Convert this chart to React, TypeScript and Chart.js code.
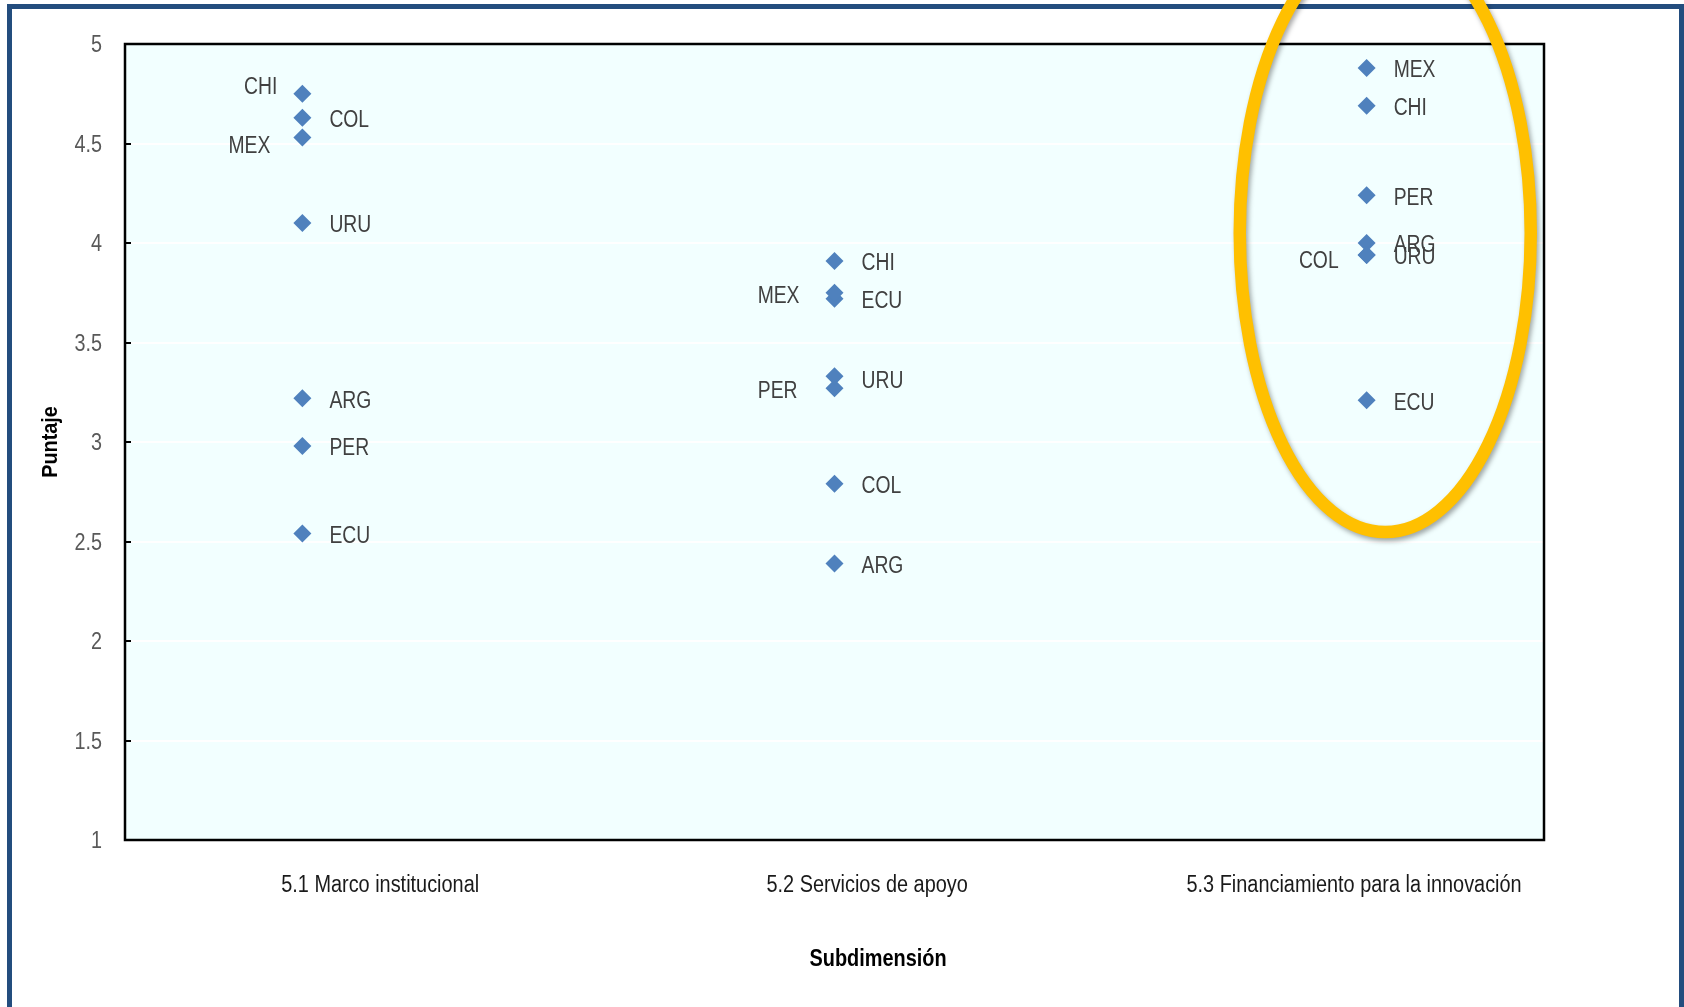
import React, { useEffect, useRef } from 'react';
import { Chart, registerables } from 'chart.js';

Chart.register(...registerables);

// ---------- data ----------
const categories = [
  '5.1 Marco institucional',
  '5.2 Servicios de apoyo',
  '5.3 Financiamiento para la innovación',
];
const countries = ['ARG', 'CHI', 'COL', 'ECU', 'MEX', 'PER', 'URU'];
const marcoInstitucional = [3.22, 4.75, 4.63, 2.54, 4.53, 2.98, 4.1];
const serviciosApoyo = [2.39, 3.91, 2.79, 3.72, 3.75, 3.27, 3.33];
const financiamientoInnovacion = [4.0, 4.69, 3.94, 3.21, 4.88, 4.24, 3.94];
const seriesValues = [marcoInstitucional, serviciosApoyo, financiamientoInnovacion];
const yMin = 1;
const yMax = 5;
const yStep = 0.5;
const yTitle = 'Puntaje';
const xTitle = 'Subdimensión';

// ---------- styles / layout ----------
const FONT = "'Liberation Sans', Arial, sans-serif";
const POINT_COLOR = '#4F81BD';
const PLOT_BG = '#F2FFFF';
const FRAME_COLOR = '#234D7E';
const RIGHT_DX = 27;
const TEXT_DY = 2; // visual centring correction for 'middle' baseline
// label placement per "categoryIndex-country"
const labelLayout: Record<string, { side: 'left' | 'right'; dx: number; dy: number }> = {
  '0-CHI': { side: 'left', dx: -25, dy: -8 },
  '0-MEX': { side: 'left', dx: -32, dy: 7 },
  '1-MEX': { side: 'left', dx: -35, dy: 2 },
  '1-PER': { side: 'left', dx: -37, dy: 1 },
  '1-URU': { side: 'right', dx: RIGHT_DX, dy: 3 },
  '2-COL': { side: 'left', dx: -28, dy: 5 },
};

function narrowText(
  ctx: CanvasRenderingContext2D,
  text: string,
  x: number,
  y: number,
  align: CanvasTextAlign,
  sx: number,
  rotate = 0
) {
  ctx.save();
  ctx.translate(x, rotate ? y : y + TEXT_DY);
  if (rotate) ctx.rotate(rotate);
  ctx.scale(sx, 1);
  ctx.textAlign = align;
  ctx.textBaseline = 'middle';
  ctx.fillText(text, 0, 0);
  ctx.restore();
}

const plotDecor = {
  id: 'plotDecor',
  beforeDraw(chart: any) {
    const { ctx, chartArea: a } = chart;
    ctx.save();
    ctx.fillStyle = PLOT_BG;
    ctx.fillRect(a.left, a.top, a.right - a.left, a.bottom - a.top);
    ctx.restore();
  },
  afterDatasetsDraw(chart: any) {
    const { ctx } = chart;
    ctx.save();
    ctx.font = `23px ${FONT}`;
    ctx.fillStyle = '#404040';
    chart.data.datasets.forEach((ds: any, di: number) => {
      const meta = chart.getDatasetMeta(di);
      meta.data.forEach((pt: any, i: number) => {
        const key = `${di}-${countries[i]}`;
        const lay = labelLayout[key] || { side: 'right', dx: RIGHT_DX, dy: 1 };
        narrowText(
          ctx,
          countries[i],
          pt.x + lay.dx,
          pt.y + lay.dy,
          lay.side === 'left' ? 'right' : 'left',
          0.84
        );
      });
    });
    ctx.restore();
  },
  afterDraw(chart: any) {
    const { ctx, chartArea: a, scales } = chart;
    ctx.save();
    // y tick labels + inward tick marks
    ctx.strokeStyle = '#000';
    ctx.lineWidth = 2;
    ctx.font = `23px ${FONT}`;
    ctx.fillStyle = '#595959';
    scales.y.ticks.forEach((t: any) => {
      const y = scales.y.getPixelForValue(t.value);
      const yr = Math.round(y);
      ctx.beginPath();
      ctx.moveTo(a.left, yr);
      ctx.lineTo(a.left + 6, yr);
      ctx.stroke();
      narrowText(ctx, String(t.value), a.left - 23, y, 'right', 0.86);
    });
    // category labels
    ctx.font = `23px ${FONT}`;
    ctx.fillStyle = '#1a1a1a';
    scales.x2.ticks.forEach((t: any) => {
      const x = scales.x2.getPixelForValue(t.value);
      narrowText(ctx, categories[Math.round(t.value) - 1], x, a.bottom + 44, 'center', 0.865);
    });
    // plot border
    ctx.lineWidth = 2.5;
    ctx.strokeStyle = '#000';
    ctx.strokeRect(a.left, a.top, a.right - a.left, a.bottom - a.top);
    // axis titles
    ctx.font = `bold 23px ${FONT}`;
    ctx.fillStyle = '#000';
    narrowText(ctx, xTitle, 878, 958, 'center', 0.865);
    ctx.font = `bold 22px ${FONT}`;
    narrowText(ctx, yTitle, 51, (a.top + a.bottom) / 2, 'center', 0.9, -Math.PI / 2);
    // highlight ellipse around third subdimension
    const cx = scales.x.getPixelForValue(3.035);
    const cy = scales.y.getPixelForValue(4.05);
    ctx.shadowColor = 'rgba(0,0,0,0.35)';
    ctx.shadowBlur = 5;
    ctx.shadowOffsetX = 2;
    ctx.shadowOffsetY = 3;
    ctx.strokeStyle = '#FFC000';
    ctx.lineWidth = 12.5;
    ctx.beginPath();
    ctx.ellipse(cx, cy, 145.5, 299, 0, 0, Math.PI * 2);
    ctx.stroke();
    ctx.restore();
  },
};

export default function App() {
  const ref = useRef<HTMLCanvasElement | null>(null);

  useEffect(() => {
    if (!ref.current) return;
    const chart = new Chart(ref.current, {
      type: 'scatter',
      data: {
        datasets: seriesValues.map((vals, ci) => ({
          label: categories[ci],
          data: vals.map((v) => ({ x: ci + 1, y: v })),
          pointStyle: 'rectRot',
          pointRadius: 9,
          pointBorderWidth: 0,
          backgroundColor: POINT_COLOR,
          borderColor: POINT_COLOR,
        })),
      },
      options: {
        animation: false,
        responsive: false,
        devicePixelRatio: 1,
        layout: { padding: { top: 44, right: 140, left: 0, bottom: 0 } },
        plugins: {
          legend: { display: false },
          tooltip: { enabled: false },
        },
        scales: {
          x: {
            type: 'linear',
            display: false,
            min: 2 / 3,
            max: 10 / 3,
          },
          x2: {
            type: 'linear',
            position: 'bottom',
            min: 0.476,
            max: 3.39,
            afterBuildTicks: (scale: any) => {
              scale.ticks = categories.map((_, i) => ({ value: i + 1 }));
            },
            afterFit: (scale: any) => {
              scale.height = 167;
            },
            ticks: { display: false },
            grid: { display: false, drawTicks: false },
            border: { display: false },
          },
          y: {
            type: 'linear',
            min: yMin,
            max: yMax,
            afterFit: (scale: any) => {
              scale.width = 125;
            },
            ticks: { stepSize: yStep, display: false },
            grid: { color: '#FFFFFF', lineWidth: 2, drawTicks: false },
            border: { display: false },
            title: { display: false },
          },
        },
      },
      plugins: [plotDecor],
    } as any);
    return () => chart.destroy();
  }, []);

  return (
    <div
      style={{
        position: 'absolute',
        left: 0,
        top: 0,
        width: 1684,
        height: 1007,
        overflow: 'hidden',
        background: '#fff',
      }}
    >
      <div
        style={{
          position: 'absolute',
          left: 7,
          top: 4,
          width: 1677,
          height: 1100,
          boxSizing: 'border-box',
          border: `5px solid ${FRAME_COLOR}`,
          borderBottom: 'none',
        }}
      />
      <canvas
        ref={ref}
        width={1684}
        height={1007}
        style={{ position: 'absolute', left: 0, top: 0, width: 1684, height: 1007 }}
      />
    </div>
  );
}
